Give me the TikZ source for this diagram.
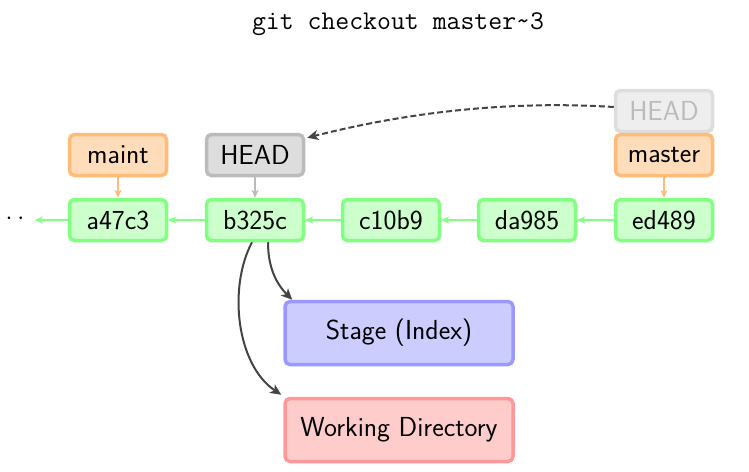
\documentclass[tikz,border=0pt]{standalone}
\usetikzlibrary{arrows.meta}
\definecolor{cfill}{HTML}{CCFFCC}
\definecolor{cdraw}{HTML}{80FF80}
\definecolor{bfill}{HTML}{FFDDBB}
\definecolor{bdraw}{HTML}{FFBB77}
\definecolor{hfill}{HTML}{DDDDDD}
\definecolor{hdraw}{HTML}{BBBBBB}
\definecolor{gfill}{HTML}{EEEEEE}
\definecolor{gdraw}{HTML}{DDDDDD}
\definecolor{gtext}{HTML}{BBBBBB}
\definecolor{sfill}{HTML}{CCCCFF}
\definecolor{sdraw}{HTML}{9999FF}
\definecolor{wfill}{HTML}{FFCCCC}
\definecolor{wdraw}{HTML}{FF9999}
\definecolor{dark}{HTML}{444444}
\begin{document}
\begin{tikzpicture}[x=1pt,y=1pt,
  box/.style={rectangle, rounded corners=5pt, line width=3.5pt, inner sep=0pt,
    minimum width=97pt, minimum height=41pt,
    font=\sffamily\fontsize{27.5}{32}\selectfont},
  commit/.style={box, fill=cfill, draw=cdraw},
  branch/.style={box, fill=bfill, draw=bdraw},
  headbox/.style={box, fill=hfill, draw=hdraw},
  ghostbox/.style={box, fill=gfill, draw=gdraw, text=gtext},
  area/.style={box, minimum width=228pt, minimum height=63pt},
  parent/.style={draw=cdraw, line width=2pt, -{Stealth[length=8pt,width=7pt,inset=2.5pt]}},
  bref/.style={draw=bdraw, line width=2pt, -{Stealth[length=8pt,width=7pt,inset=2.5pt]}},
  href/.style={draw=hdraw, line width=2pt, -{Stealth[length=8pt,width=7pt,inset=2.5pt]}},
  flow/.style={draw=dark, line width=2pt, -{Stealth[length=11pt,width=10pt,inset=3pt]}},
]
\useasboundingbox (0,0) rectangle (749,-471);

\node[font=\ttfamily\fontsize{27}{31}\selectfont] (title) at (398,-24) {git checkout master\string~3};

\node[commit] (a47c3) at (118,-220) {a47c3};
\node[commit] (b325c) at (255,-220) {b325c};
\node[commit] (c10b9) at (391,-220) {c10b9};
\node[commit] (da985) at (527,-220) {da985};
\node[commit] (ed489) at (664,-220) {ed489};

\node[font=\fontsize{34}{38}\selectfont, inner sep=0pt] (dots) at (15,-219) {$\cdot$\kern5pt$\cdot$};
\coordinate (dotsend) at (35,-220);

\node[branch] (maint) at (118,-155) {maint};
\node[headbox] (head) at (255,-155) {HEAD};
\node[ghostbox] (ghost) at (664,-111) {HEAD};
\node[branch] (master) at (664,-155) {master};

\node[area, fill=sfill, draw=sdraw] (stage) at (399,-333) {Stage (Index)};
\node[area, fill=wfill, draw=wdraw] (wd) at (399,-430) {Working Directory};

\draw[parent] (ed489) -- (da985);
\draw[parent] (da985) -- (c10b9);
\draw[parent] (c10b9) -- (b325c);
\draw[parent] (b325c) -- (a47c3);
\draw[parent] (a47c3) -- (dotsend);

\draw[bref] (maint) -- (a47c3);
\draw[bref] (master) -- (ed489);
\draw[href] (head) -- (b325c);

\draw[flow, dashed, dash pattern=on 6pt off 3pt] ([yshift=4pt]ghost.west) .. controls +(-95,6) and +(110,28) .. ([xshift=2pt,yshift=-5pt]head.north east);

\draw[flow] ([xshift=13pt]b325c.south) .. controls +(0,-28) and +(-14,14) .. ([xshift=9pt]stage.north west);
\draw[flow] ([xshift=-3pt]b325c.south) .. controls +(-24,-45) and +(-45,30) .. ([xshift=-2pt,yshift=2pt]wd.north west);
\end{tikzpicture}
\end{document}
